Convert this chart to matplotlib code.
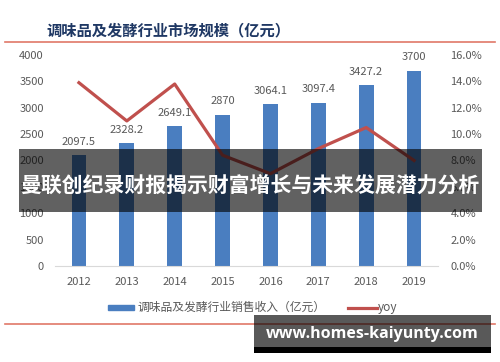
import matplotlib
matplotlib.use("Agg")
import matplotlib.pyplot as plt
from matplotlib.patches import Rectangle
from matplotlib.lines import Line2D

plt.rcParams['font.family'] = ['Noto Sans CJK SC', 'DejaVu Sans']

years = ["2012", "2013", "2014", "2015", "2016", "2017", "2018", "2019"]
revenue = [2097.5, 2328.2, 2649.1, 2870, 3064.1, 3097.4, 3427.2, 3700]
yoy = [13.9, 11.0, 13.8, 8.4, 7.0, 8.9, 10.5, 8.0]
left_ticks = [0, 500, 1000, 1500, 2000, 2500, 3000, 3500, 4000]
right_ticks = [0, 2, 4, 6, 8, 10, 12, 14, 16]

title = "调味品及发酵行业市场规模（亿元）"
bar_label = "调味品及发酵行业销售收入（亿元）"
line_label = "yoy"
banner = "曼联创纪录财报揭示财富增长与未来发展潜力分析"
watermark = "www.homes-kaiyunty.com"

W, H = 500, 362
fig = plt.figure(figsize=(W / 100, H / 100), dpi=100)
fig.patch.set_facecolor("white")

ax = fig.add_axes([55 / W, 1 - 266 / H, (438 - 55) / W, (266 - 55) / H])
x = list(range(len(years)))
bar_color = "#4A7EC0"
line_color = "#C0504D"
ax.bar(x, revenue, width=0.31, color=bar_color, zorder=2)
ax.set_ylim(0, 4000)
ax.set_xlim(-0.5, len(years) - 0.5)
ax.set_yticks(left_ticks)
ax.set_xticks(x)
ax.set_xticklabels(years)
for s in ["top", "right", "left"]:
    ax.spines[s].set_visible(False)
ax.spines["bottom"].set_color("#D9D9D9")
ax.tick_params(axis="both", length=0, labelsize=8, colors="#595959", pad=8)
ax.tick_params(axis="x", pad=8)
for xi, v in zip(x, revenue):
    ax.annotate(f"{v:g}", (xi, v), xytext=(0, 6), textcoords="offset points",
                ha="center", va="bottom", fontsize=8, color="#595959")

ax2 = ax.twinx()
ax2.plot(x, yoy, color=line_color, lw=2.3, zorder=3)
ax2.set_ylim(0, 16)
ax2.set_yticks(right_ticks)
ax2.set_yticklabels([f"{t:.1f}%" for t in right_ticks])
for s in ["top", "right", "left", "bottom"]:
    ax2.spines[s].set_visible(False)
ax2.tick_params(axis="y", length=0, labelsize=8, colors="#595959", pad=9)

# title and decorative lines
fig.text(168 / W, 1 - 30 / H, title, ha="center", va="center", fontsize=11,
         fontweight="bold", color="#1F3864")
fig.add_artist(Line2D([5 / W, 495 / W], [1 - 42 / H, 1 - 42 / H], color="#E07868", lw=1.2))
fig.add_artist(Line2D([5 / W, 495 / W], [1 - 324 / H, 1 - 324 / H], color="#E07868", lw=1.2))

# legend
fig.add_artist(Rectangle((108 / W, 1 - 310 / H), 26 / W, 5 / H, color=bar_color))
fig.text(138 / W, 1 - 307 / H, bar_label, ha="left", va="center", fontsize=8.5, color="#595959")
fig.add_artist(Line2D([348 / W, 377 / W], [1 - 308 / H, 1 - 308 / H], color=line_color, lw=2.3))
fig.text(378 / W, 1 - 307 / H, line_label, ha="left", va="center", fontsize=8.5, color="#595959")

# banner overlay
fig.add_artist(Rectangle((19 / W, 1 - 212 / H), (482 - 19) / W, (212 - 149) / H,
                         facecolor="black", alpha=0.62, edgecolor="none", zorder=10))
fig.text(250 / W, 1 - 185 / H, banner, ha="center", va="center", fontsize=15,
         fontweight="bold", color="white", zorder=11)

# watermark
fig.add_artist(Rectangle((254 / W, 1 - 347 / H), (491 - 254) / W, (347 - 315) / H,
                         facecolor="black", alpha=0.65, edgecolor="none", zorder=10))
fig.add_artist(Rectangle((254 / W, 1 - 353 / H), (491 - 254) / W, 6 / H,
                         facecolor="black", edgecolor="none", zorder=10))
fig.text(372 / W, 1 - 334 / H, watermark, ha="center", va="center", fontsize=11.5,
         fontweight="bold", color="white", zorder=11, family=["Open Sans", "DejaVu Sans"])

fig.savefig("out.png", dpi=100, facecolor="white")
